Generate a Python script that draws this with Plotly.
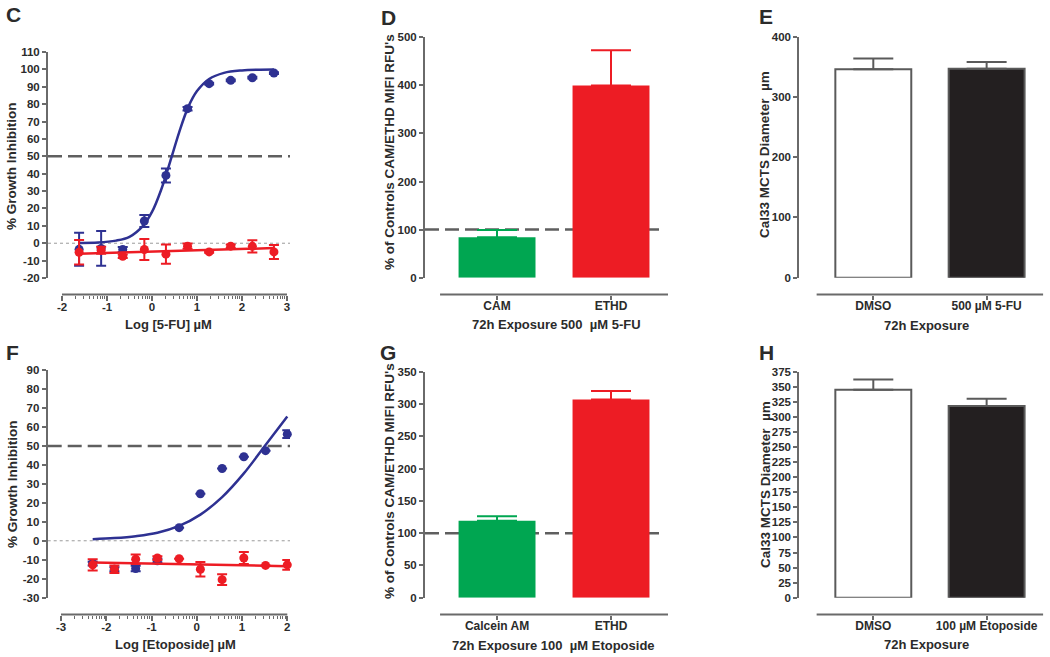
import math
import plotly.graph_objects as go

# ---------------- DATA ----------------
# Panel C: 5-FU dose response
c_logx = [-1.62, -1.13, -0.65, -0.17, 0.31, 0.79, 1.27, 1.75, 2.23, 2.71]
c_blue = [-3.5, -3.0, -3.6, 12.8, 39.0, 77.4, 91.8, 93.7, 95.2, 97.9]
c_blue_err = [9.5, 10.0, 1.5, 3.5, 4.0, 1.0, 0.5, 0.5, 0.5, 0.5]
c_red = [-5.2, -4.0, -7.5, -3.6, -6.3, -1.7, -5.0, -1.7, -1.8, -5.0]
c_red_err = [7.0, 2.0, 1.0, 6.0, 5.5, 1.5, 0.5, 1.0, 3.5, 4.0]
c_fit_x = [-1.62, -1.2, -0.8, -0.5, -0.2, 0.0, 0.2, 0.44, 0.6, 0.8, 1.0, 1.27, 1.6, 2.0, 2.4, 2.71]
c_fit_y = [0.2, 0.4, 1.5, 3.7, 10.0, 18.0, 30.5, 50.0, 63.5, 78.0, 87.5, 94.5, 98.0, 99.4, 99.8, 99.9]
c_redfit_x = [-1.62, 2.71]
c_redfit_y = [-6.0, -2.8]

# Panel F: Etoposide dose response
f_logx = [-2.30, -1.82, -1.35, -0.87, -0.39, 0.08, 0.56, 1.04, 1.52, 2.00]
f_blue = [-12.0, -15.0, -14.6, -10.5, 6.9, 24.8, 38.1, 44.3, 47.5, 56.2]
f_blue_err = [1.0, 1.0, 1.5, 1.0, 0.0, 0.0, 0.0, 0.0, 0.0, 2.0]
f_red = [-12.7, -15.0, -9.7, -9.1, -9.5, -15.0, -20.5, -9.1, -13.0, -12.7]
f_red_err = [3.0, 2.0, 2.5, 1.0, 0.0, 3.8, 2.8, 3.2, 0.0, 2.6]
f_fit_x = [-2.30, -1.82, -1.35, -0.87, -0.39, 0.08, 0.56, 1.04, 1.52, 2.00]
f_fit_y = [0.8, 1.4, 2.4, 4.2, 7.8, 13.8, 23.0, 35.5, 50.5, 65.5]
f_redfit_x = [-2.30, 2.00]
f_redfit_y = [-11.5, -13.4]

log_ticks_c = [-2, -1, 0, 1, 2, 3]
log_ticks_f = [-3, -2, -1, 0, 1, 2]
y_ticks_c = list(range(-20, 111, 10))
y_ticks_f = list(range(-30, 91, 10))

# Panel D / G: CAM / ETHD fluorescence
d_cats = ["CAM", "ETHD"]
d_vals = [84, 400]
d_err = [15, 73]
g_cats = ["Calcein AM", "ETHD"]
g_vals = [119, 307]
g_err = [7, 13]

# Panel E / H: spheroid diameter
e_cats = ["DMSO", "500 µM 5-FU"]
e_vals = [346, 347]
e_err = [18, 11]
h_cats = ["DMSO", "100 µM Etoposide"]
h_vals = [345, 318]
h_err = [17, 12]

# ---------------- STYLE ----------------
W, H = 1050, 657
FONT = "Liberation Sans, Arial, sans-serif"
TXT = "#2b2b2b"
AX = "#6a6a6a"
BLUE = "#2E3192"
RED = "#ED1C24"
GREEN = "#00A651"
BLACK = "#231F20"
OUTL = "#5a5a5a"


def px(x):
    return x / W


def py(y):
    return 1 - y / H


def lbl(v):
    return str(v)  # plain ASCII hyphen for negatives


fig = go.Figure()


def minor_log(ticks):
    vals = []
    for k in ticks[:-1]:
        for m in range(2, 10):
            vals.append(k + math.log10(m))
    return vals


# ---- dose response panels ----
def dose_panel(xa, ya, lx, blue, berr, red, rerr, fx, fy, rfx, rfy):
    fig.add_trace(go.Scatter(x=fx, y=fy, mode="lines", line=dict(color=BLUE, width=2.5, shape="spline"),
                             xaxis=xa, yaxis=ya, showlegend=False, hoverinfo="skip"))
    fig.add_trace(go.Scatter(x=lx, y=blue, mode="markers", marker=dict(color=BLUE, size=9),
                             error_y=dict(type="data", array=berr, color=BLUE, thickness=2, width=5),
                             xaxis=xa, yaxis=ya, showlegend=False, cliponaxis=False))
    fig.add_trace(go.Scatter(x=rfx, y=rfy, mode="lines", line=dict(color=RED, width=2.5),
                             xaxis=xa, yaxis=ya, showlegend=False, hoverinfo="skip"))
    fig.add_trace(go.Scatter(x=lx, y=red, mode="markers", marker=dict(color=RED, size=9),
                             error_y=dict(type="data", array=rerr, color=RED, thickness=2, width=5),
                             xaxis=xa, yaxis=ya, showlegend=False, cliponaxis=False))


dose_panel("x", "y", c_logx, c_blue, c_blue_err, c_red, c_red_err, c_fit_x, c_fit_y, c_redfit_x, c_redfit_y)
dose_panel("x4", "y4", f_logx, f_blue, f_blue_err, f_red, f_red_err, f_fit_x, f_fit_y, f_redfit_x, f_redfit_y)


# ---- bar panels ----
def bar_panel(xa, ya, cats, vals, errs, fills, lines, ecols, bw):
    for c, v, e, fc, lc, ec in zip(cats, vals, errs, fills, lines, ecols):
        fig.add_trace(go.Bar(x=[c], y=[v], width=bw,
                             marker=dict(color=fc, line=dict(color=lc or fc, width=2 if lc else 0)),
                             error_y=dict(type="data", symmetric=False, array=[e], arrayminus=[0],
                                          color=ec, thickness=2, width=20),
                             xaxis=xa, yaxis=ya, showlegend=False, cliponaxis=False))


bar_panel("x2", "y2", d_cats, d_vals, d_err, [GREEN, RED], [None, None], [GREEN, RED], 0.675)
bar_panel("x5", "y5", g_cats, g_vals, g_err, [GREEN, RED], [None, None], [GREEN, RED], 0.675)
bar_panel("x3", "y3", e_cats, e_vals, e_err, ["white", BLACK], [OUTL, OUTL], [OUTL, OUTL], 0.67)
bar_panel("x6", "y6", h_cats, h_vals, h_err, ["white", BLACK], [OUTL, OUTL], [OUTL, OUTL], 0.67)

tickfont = dict(family=FONT, size=11.5, color=TXT, weight="bold")
catfont = dict(family=FONT, size=12, color=TXT, weight="bold")


def yax(dom, rng, tv, anchor):
    return dict(domain=dom, range=rng, tickmode="array", tickvals=tv, ticktext=[lbl(v) for v in tv],
                showline=True, linecolor=AX, linewidth=2,
                ticks="outside", ticklen=4, tickwidth=1.5, tickcolor=AX, tickfont=tickfont,
                showgrid=False, zeroline=False, anchor=anchor, fixedrange=True)


def xnum(dom, rng, tv, pos, minor):
    return dict(domain=dom, range=rng, tickmode="array", tickvals=tv, ticktext=[lbl(v) for v in tv],
                showline=False, anchor="free", position=pos, ticklabelstandoff=-3,
                ticks="outside", ticklen=5, tickwidth=1.5, tickcolor=AX, tickfont=tickfont,
                minor=dict(tickvals=minor, ticks="outside", ticklen=3, tickwidth=1, tickcolor=AX),
                showgrid=False, zeroline=False, fixedrange=True)


def xcat(dom, rng, cats, pos):
    return dict(domain=dom, range=rng, type="category", categoryorder="array", categoryarray=cats,
                showline=False, anchor="free", position=pos, ticks="outside", ticklen=4, tickwidth=1.5,
                ticklabelstandoff=-4,
                tickcolor=AX, tickfont=catfont, showgrid=False, zeroline=False, fixedrange=True)


posC = py(294.5)
posF = py(614.5)

fig.update_layout(
    width=W, height=H, margin=dict(l=0, r=0, t=0, b=0, autoexpand=False), autosize=False,
    paper_bgcolor="white", plot_bgcolor="white", barmode="overlay",
    font=dict(family=FONT, color=TXT),
    # C
    xaxis=xnum([px(48), px(290)], [-2.311, 3.067], log_ticks_c, posC, minor_log(log_ticks_c)),
    yaxis=yax([py(278), py(52)], [-20, 110], y_ticks_c, "x"),
    # D
    xaxis2=xcat([px(425), px(668)], [-0.632, 1.5], d_cats, posC),
    yaxis2=yax([py(277.7), py(37.3)], [0, 500], list(range(0, 501, 100)), "x2"),
    # E
    xaxis3=xcat([px(799.3), px(1043.3)], [-0.653, 1.5], e_cats, posC),
    yaxis3=yax([py(277.7), py(36.7)], [0, 400], list(range(0, 401, 100)), "x3"),
    # F
    xaxis4=xnum([px(47.7), px(290)], [-3.294, 2.06], log_ticks_f, posF, minor_log(log_ticks_f)),
    yaxis4=yax([py(597.7), py(370)], [-30, 90], y_ticks_f, "x4"),
    # G
    xaxis5=xcat([px(425), px(668)], [-0.632, 1.5], g_cats, posF),
    yaxis5=yax([py(597.7), py(371.7)], [0, 350], list(range(0, 351, 50)), "x5"),
    # H
    xaxis6=xcat([px(799.3), px(1043.3)], [-0.653, 1.5], h_cats, posF),
    yaxis6=yax([py(597.7), py(371.7)], [0, 375], list(range(0, 376, 25)), "x6"),
)

shapes = []
# x-axis lines (offset, GraphPad style)
for xr, x0, x1, pos in [("x", -2, 3, posC), ("x4", -3, 2, posF), ("x2", -0.5, 1.5, posC),
                        ("x5", -0.5, 1.5, posF), ("x3", -0.5, 1.5, posC), ("x6", -0.5, 1.5, posF)]:
    shapes.append(dict(type="line", xref=xr, yref="paper", x0=x0, x1=x1, y0=pos, y1=pos,
                       line=dict(color=AX, width=2)))
# reference lines
DASH = "14px,6px"
for xr, yr, yv, x1 in [("x", "y", 50, 1.0), ("x4", "y4", 50, 1.0), ("x2", "y2", 100, 0.98), ("x5", "y5", 100, 0.98)]:
    shapes.append(dict(type="line", xref=xr + " domain", yref=yr, x0=0, x1=x1, y0=yv, y1=yv,
                       line=dict(color="#5f5f5f", width=2.5, dash=DASH), layer="below"))
for xr, yr in [("x", "y"), ("x4", "y4")]:
    shapes.append(dict(type="line", xref=xr + " domain", yref=yr, x0=0, x1=1, y0=0, y1=0,
                       line=dict(color="#9a9a9a", width=1, dash="dot"), layer="below"))
fig.update_layout(shapes=shapes)

ann = []


def text(x, y, s, size=13, angle=0):
    ann.append(dict(x=px(x), y=py(y), xref="paper", yref="paper", text=s, showarrow=False,
                    textangle=angle, xanchor="center", yanchor="middle",
                    font=dict(family=FONT, size=size, color=TXT, weight="bold")))


# panel letters
for lab, x, y in [("C", 13, 15), ("D", 388, 17), ("E", 766, 16), ("F", 12, 352), ("G", 388, 352), ("H", 766, 352)]:
    text(x, y, lab, size=21)
# x titles
text(168, 324, "Log [5-FU] µM")
text(175, 644, "Log [Etoposide] µM")
text(556, 324, "72h Exposure 500  µM 5-FU")
text(553, 645, "72h Exposure 100  µM Etoposide")
text(926, 325, "72h Exposure")
text(926, 644, "72h Exposure")
# y titles
text(12, 167, "% Growth Inhibition", size=13.5, angle=-90)
text(12, 485, "% Growth Inhibition", size=13.5, angle=-90)
text(389, 152, "% of Controls CAM/ETHD MIFI RFU's", size=13.5, angle=-90)
text(389, 481, "% of Controls CAM/ETHD MIFI RFU's", size=13.5, angle=-90)
text(765, 155, "Cal33 MCTS Diameter  µm", size=13.5, angle=-90)
text(765, 485, "Cal33 MCTS Diameter  µm", size=13.5, angle=-90)
fig.update_layout(annotations=ann)

fig.write_html("out.html", config={"displayModeBar": False},
               post_script="document.body.style.margin='0px';")
